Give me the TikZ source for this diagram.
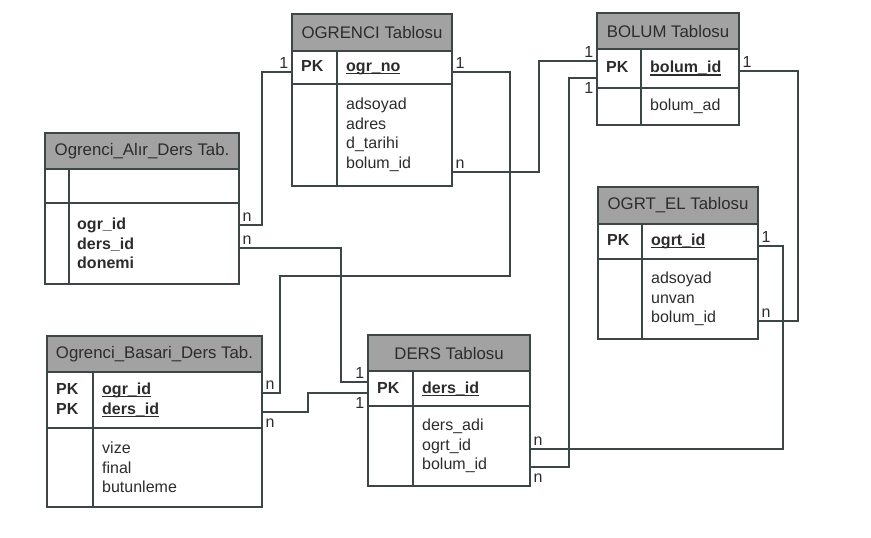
\documentclass[tikz,border=0pt]{standalone}
\usepackage{fontspec}
\setmainfont{Liberation Sans}
\usepackage{xcolor}
\usepackage{tikz}
\usetikzlibrary{positioning}

\definecolor{linec}{HTML}{3C4646}
\definecolor{hdrgray}{HTML}{A2A2A2}
\definecolor{txtc}{HTML}{2C2C2C}

\newcommand{\keyul}[1]{\setbox0=\hbox{#1}\rlap{\rule[-2.6pt]{\wd0}{1.1pt}}\box0}
\newcommand{\pkline}[2]{\makebox[#1][l]{\textbf{PK}}\keyul{\textbf{#2}}}

\tikzset{
    hdr/.style  = {draw=linec, fill=hdrgray, line width=1.1pt, inner sep=0pt, outer sep=0pt,
                   anchor=north west, text=txtc, font=\fontsize{16.8pt}{19.5pt}\selectfont},
    row/.style  = {draw=linec, line width=1.1pt, inner sep=0pt, outer sep=0pt},
    cell/.style = {inner sep=0pt, align=left, text=txtc, font=\fontsize{16pt}{19.5pt}\selectfont},
    link/.style = {draw=linec, line width=1.1pt},
    card/.style = {inner sep=1pt, text=txtc, text height=11.5pt, text depth=0pt,
                   font=\fontsize{16pt}{19.5pt}\selectfont}
}

\begin{document}
\begin{tikzpicture}[x=1pt, y=-1pt]
    \useasboundingbox (0,0) rectangle (871,538);

    % OGRENCI
    \node[hdr, minimum width=160pt, minimum height=37pt] (ogrenci) at (292,14) {OGRENCI Tablosu};
    \node[row, minimum width=160pt, minimum height=33pt, below=0pt of ogrenci] (ogrenci-key) {};
    \node[row, minimum width=160pt, minimum height=102pt, below=0pt of ogrenci-key] (ogrenci-att) {};
    \draw[link] ([xshift=45pt]ogrenci-key.north west) -- ([xshift=45pt]ogrenci-att.south west);
    \node[cell, right=9pt of ogrenci-key.west] (ogrenci-pk) {\pkline{45pt}{ogr\_no}};
    \node[cell, right=54pt of ogrenci-att.west] (ogrenci-fld) {adsoyad\\adres\\d\_tarihi\\bolum\_id};

    % BOLUM
    \node[hdr, minimum width=142pt, minimum height=36pt] (bolum) at (597,13) {BOLUM Tablosu};
    \node[row, minimum width=142pt, minimum height=39pt, below=0pt of bolum] (bolum-key) {};
    \node[row, minimum width=142pt, minimum height=37pt, below=0pt of bolum-key] (bolum-att) {};
    \draw[link] ([xshift=44pt]bolum-key.north west) -- ([xshift=44pt]bolum-att.south west);
    \node[cell, right=9pt of bolum-key.west] (bolum-pk) {\pkline{44pt}{bolum\_id}};
    \node[cell, right=53pt of bolum-att.west] (bolum-fld) {bolum\_ad};

    % Ogrenci_Alir_Ders
    \node[hdr, minimum width=194pt, minimum height=36pt] (alir) at (45,133) {Ogrenci\_Alır\_Ders Tab.};
    \node[row, minimum width=194pt, minimum height=34pt, below=0pt of alir] (alir-key) {};
    \node[row, minimum width=194pt, minimum height=81pt, below=0pt of alir-key] (alir-att) {};
    \draw[link] ([xshift=24pt]alir-key.north west) -- ([xshift=24pt]alir-att.south west);
    \node[cell, font=\fontsize{16pt}{19.5pt}\selectfont\bfseries, right=32pt of alir-att.west] (alir-fld) {ogr\_id\\ders\_id\\donemi};

    % OGRT_EL
    \node[hdr, minimum width=160pt, minimum height=37pt] (ogrt) at (598,187) {OGRT\_EL Tablosu};
    \node[row, minimum width=160pt, minimum height=35pt, below=0pt of ogrt] (ogrt-key) {};
    \node[row, minimum width=160pt, minimum height=80pt, below=0pt of ogrt-key] (ogrt-att) {};
    \draw[link] ([xshift=44pt]ogrt-key.north west) -- ([xshift=44pt]ogrt-att.south west);
    \node[cell, right=9pt of ogrt-key.west] (ogrt-pk) {\pkline{44pt}{ogrt\_id}};
    \node[cell, right=53pt of ogrt-att.west] (ogrt-fld) {adsoyad\\unvan\\bolum\_id};

    % Ogrenci_Basari_Ders
    \node[hdr, minimum width=215pt, minimum height=36pt] (basari) at (47,336) {Ogrenci\_Basari\_Ders Tab.};
    \node[row, minimum width=215pt, minimum height=56pt, below=0pt of basari] (basari-key) {};
    \node[row, minimum width=215pt, minimum height=79pt, below=0pt of basari-key] (basari-att) {};
    \draw[link] ([xshift=46pt]basari-key.north west) -- ([xshift=46pt]basari-att.south west);
    \node[cell, right=9pt of basari-key.west] (basari-pk) {\pkline{46pt}{ogr\_id}\\\pkline{46pt}{ders\_id}};
    \node[cell, right=55pt of basari-att.west] (basari-fld) {vize\\final\\butunleme};

    % DERS
    \node[hdr, minimum width=162pt, minimum height=36pt] (ders) at (368,335) {DERS Tablosu};
    \node[row, minimum width=162pt, minimum height=35pt, below=0pt of ders] (ders-key) {};
    \node[row, minimum width=162pt, minimum height=80pt, below=0pt of ders-key] (ders-att) {};
    \draw[link] ([xshift=45pt]ders-key.north west) -- ([xshift=45pt]ders-att.south west);
    \node[cell, right=9pt of ders-key.west] (ders-pk) {\pkline{45pt}{ders\_id}};
    \node[cell, right=54pt of ders-att.west] (ders-fld) {ders\_adi\\ogrt\_id\\bolum\_id};

    % relations
    \draw[link] ([yshift=-4.5pt]ogrenci-key.west) node[card, above left=3pt] {1}
        -- ++(-30pt,0) |- ([yshift=18.5pt]alir-att.east) node[card, above right=3pt] {n};
    \draw[link] ([yshift=-4.5pt]ogrenci-key.east) node[card, above right=3pt] {1}
        -- ++(58pt,0) |- (280,276) |- ([yshift=7pt]basari-key.east) node[card, above right=3pt] {n};
    \draw[link] ([yshift=-37pt]ogrenci-att.east) node[card, above right=3pt] {n}
        -- ++(87pt,0) |- ([yshift=7.5pt]bolum-key.west) node[card, above left=3pt] {1};
    \draw[link] ([yshift=-9.5pt]bolum-key.west) node[card, below left=3pt] {1}
        -- ++(-28pt,0) |- ([yshift=-21pt]ders-att.east) node[card, below right=3pt] {n};
    \draw[link] ([yshift=-2.5pt]bolum-key.east) node[card, above right=3pt] {1}
        -- ++(59pt,0) |- ([yshift=-22pt]ogrt-att.east) node[card, above right=3pt] {n};
    \draw[link] ([yshift=-4.5pt]ogrt-key.east) node[card, above right=3pt] {1}
        -- ++(25pt,0) |- ([yshift=-3pt]ders-att.east) node[card, above right=3pt] {n};
    \draw[link] ([yshift=-4.5pt]alir-att.east) node[card, above right=3pt] {n}
        -- ++(102pt,0) |- ([yshift=6.5pt]ders-key.west) node[card, above left=3pt] {1};
    \draw[link] ([yshift=-12pt]basari-key.east) node[card, below right=3pt] {n}
        -- ++(46pt,0) |- ([yshift=-4.5pt]ders-key.west) node[card, below left=3pt] {1};
\end{tikzpicture}
\end{document}
